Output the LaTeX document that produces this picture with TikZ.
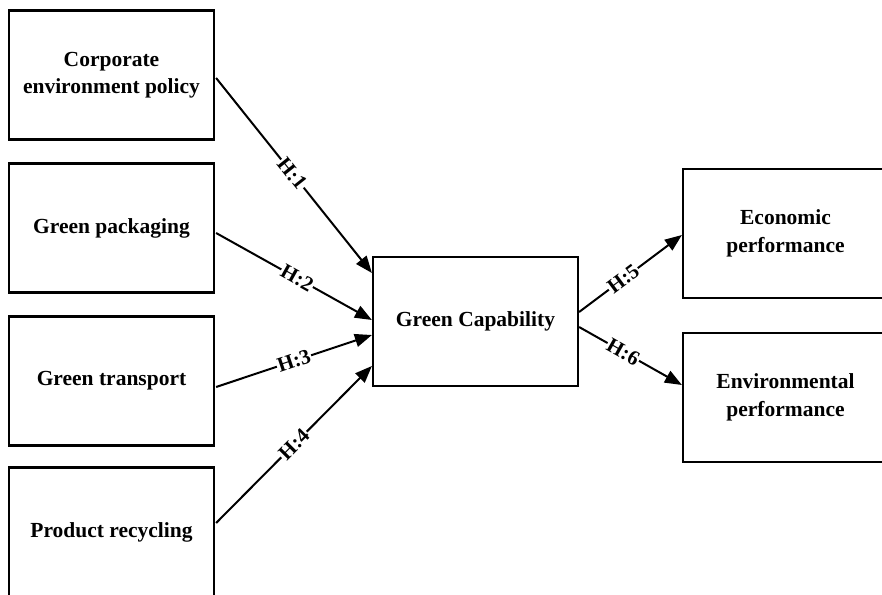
\documentclass[tikz,border=0pt]{standalone}
\usepackage{fontspec}
\setmainfont{Liberation Serif}
\usetikzlibrary{arrows.meta,calc}
\begin{document}
\begin{tikzpicture}[x=1pt,y=-1pt,
  box/.style={draw=black,line width=2.2pt,minimum width=205pt,minimum height=129pt,
    inner sep=0pt,align=center,font=\fontsize{21.5}{27.5}\selectfont\bfseries},
  conn/.style={line width=2pt,-{Triangle[length=17pt,width=13pt]}},
  hlab/.style={fill=white,inner sep=1pt,sloped,font=\fontsize{21}{24}\selectfont\bfseries}]
\useasboundingbox (0,0) rectangle (882,594);
\clip (0,0) rectangle (882,594);
\node[box] (cep) at (111.5,75) {Corporate\\environment policy};
\node[box] (gp) at (111.5,228) {Green packaging};
\node[box] (gt) at (111.5,381) {Green transport};
\node[box] (pr) at (111.5,532) {Product recycling};
\node[box] (gc) at (475.5,321.5) {Green Capability};
\node[box] (ep) at (785.5,233.5) {Economic\\performance};
\node[box] (env) at (785.5,397.5) {Environmental\\performance};
\draw[conn] ($(cep.east)+(1,3)$) -- node[hlab,pos=0.49] {H:1} ($(gc.west)+(0,-48.5)$);
\draw[conn] ($(gp.east)+(1,5)$) -- node[hlab,pos=0.52] {H:2} ($(gc.west)+(0,-1.5)$);
\draw[conn] ($(gt.east)+(1,6)$) -- node[hlab,pos=0.5] {H:3} ($(gc.west)+(0,13.5)$);
\draw[conn] ($(pr.east)+(1,-9)$) -- node[hlab,pos=0.5] {H:4} ($(gc.west)+(0,44.5)$);
\draw[conn] ($(gc.east)+(0,-9.5)$) -- node[hlab,pos=0.43] {H:5} ($(ep.west)+(0,1.5)$);
\draw[conn] ($(gc.east)+(0,5.5)$) -- node[hlab,pos=0.43] {H:6} ($(env.west)+(0,-12.5)$);
\end{tikzpicture}
\end{document}
